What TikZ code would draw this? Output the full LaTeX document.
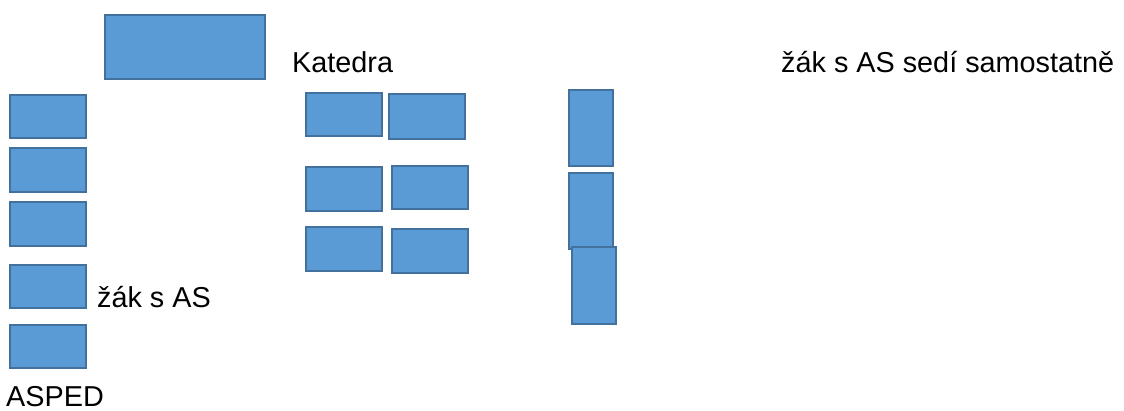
\documentclass[tikz,border=0pt]{standalone}
\usepackage{fontspec}
\setmainfont{Liberation Sans}
\definecolor{deskfill}{HTML}{5B9BD5}
\definecolor{deskline}{HTML}{41719C}
\begin{document}
\begin{tikzpicture}[x=1pt,y=-1pt,
  desk/.style={draw=deskline,fill=deskfill,line width=2.5pt},
  lbl/.style={inner sep=0pt,anchor=base west,font=\fontsize{28.8}{30}\selectfont}]
\useasboundingbox (0,0) rectangle (1124,410);
% teacher's desk
\path[desk] (105,15) rectangle (265,79) coordinate (katedra);
% left column
\path[desk] (10,95) rectangle (86,138);
\path[desk] (10,148) rectangle (86,192);
\path[desk] (10,202) rectangle (86,246);
\path[desk] (10,265) rectangle (86,308);
\path[desk] (10,325) rectangle (86,368);
% middle group
\path[desk] (306,93) rectangle (382,136);
\path[desk] (389,94) rectangle (465,139);
\path[desk] (306,167) rectangle (382,211);
\path[desk] (392,166) rectangle (468,209);
\path[desk] (306,227) rectangle (382,271);
\path[desk] (392,229) rectangle (468,273);
% right column
\path[desk] (569,90) rectangle (613,166);
\path[desk] (569,173) rectangle (613,249);
\path[desk] (572,247) rectangle (616,324);
% labels
\node[lbl] (tk) at (292,72) {Katedra};
\node[lbl] (tr) at (781,72) {žák s AS sedí samostatně};
\node[lbl] (ta) at (97,307) {žák s AS};
\node[lbl] (tp) at (6,406) {ASPED};
\end{tikzpicture}
\end{document}
